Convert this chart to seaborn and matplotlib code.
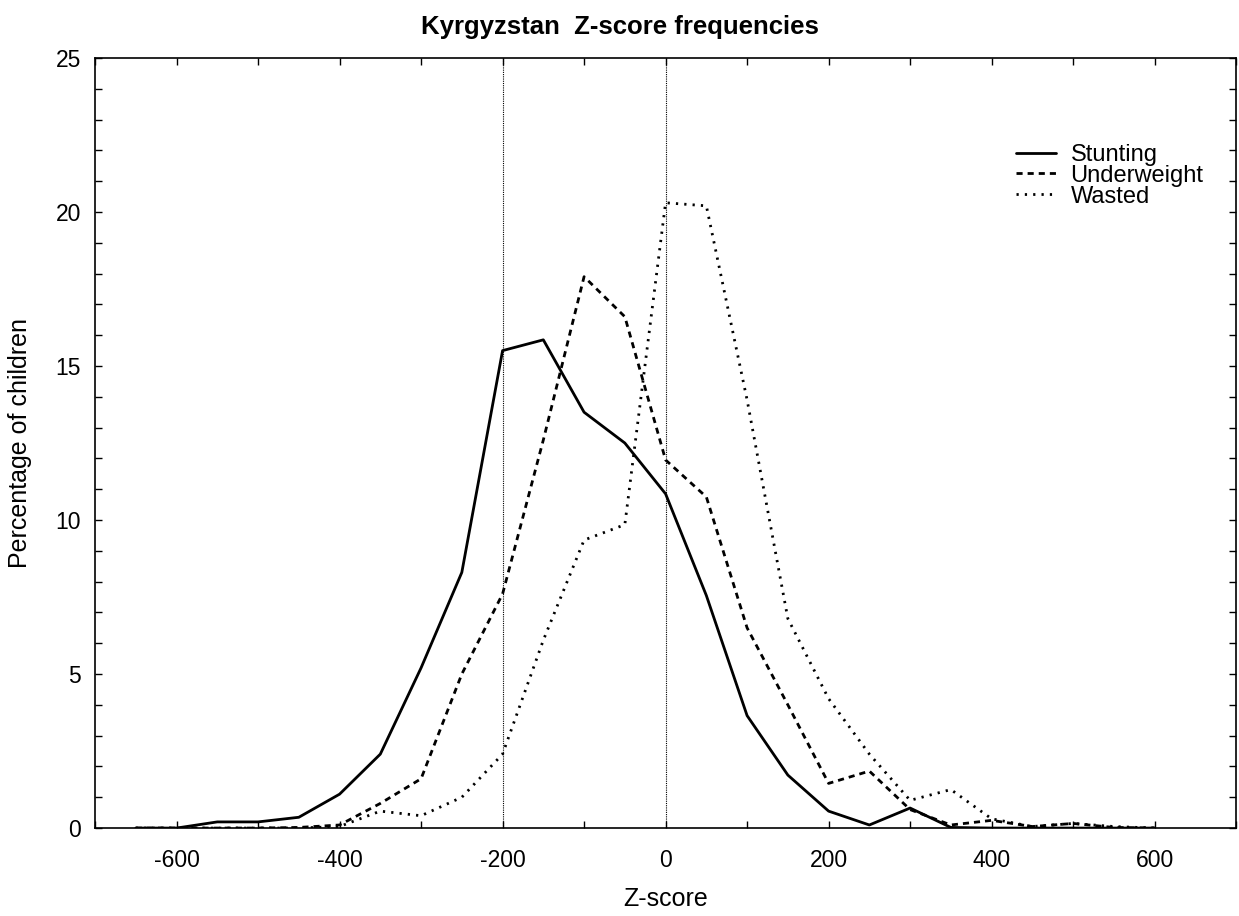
import numpy as np
import pandas as pd
import matplotlib
matplotlib.use("Agg")
import matplotlib.pyplot as plt
import matplotlib.ticker as mticker
import seaborn as sns

sns.set_style("ticks")
plt.rcParams['font.family'] = ['Liberation Sans', 'DejaVu Sans']
plt.rcParams['text.color'] = 'black'
plt.rcParams['axes.labelcolor'] = 'black'

# Z-score bins (centre of each 50-unit bin)
z_score = [-650, -600, -550, -500, -450, -400, -350, -300, -250, -200, -150, -100, -50,
           0, 50, 100, 150, 200, 250, 300, 350, 400, 450, 500, 550, 600]

stunting = [0, 0, 0.2, 0.2, 0.35, 1.1, 2.4, 5.2, 8.3, 15.5, 15.85, 13.5, 12.5,
            10.85, 7.55, 3.65, 1.72, 0.55, 0.1, 0.65, 0.02, 0, 0, 0, 0, 0]
underweight = [0, 0, 0, 0, 0.02, 0.1, 0.8, 1.6, 5.0, 7.6, 12.6, 17.9, 16.6,
               11.95, 10.75, 6.5, 4.0, 1.45, 1.85, 0.6, 0.1, 0.25, 0.05, 0.15, 0.02, 0]
wasted = [0, 0, 0, 0, 0, 0.05, 0.55, 0.4, 1.0, 2.4, 6.1, 9.35, 9.85,
          20.3, 20.2, 13.9, 6.8, 4.2, 2.4, 0.9, 1.25, 0.3, 0.05, 0.15, 0.05, 0]

series = ['Stunting', 'Underweight', 'Wasted']

df = pd.DataFrame({
    'z': z_score * 3,
    'pct': stunting + underweight + wasted,
    'serie': np.repeat(series, len(z_score)),
})

fig = plt.figure(figsize=(12.39, 9.16), dpi=100)
ax = fig.add_axes([0.0767, 0.096, 0.921, 0.8407])

# reference lines at -2 SD and 0
for xv in [-200, 0]:
    ax.axvline(xv, color='black', lw=0.8, ls=(0, (1, 1)), zorder=1)

sns.lineplot(data=df, x='z', y='pct', style='serie', ax=ax,
             color='black', linewidth=2.0,
             dashes={'Stunting': '', 'Underweight': (2.2, 1.8), 'Wasted': (0.8, 2.2)},
             legend=True)

ax.set_xlim(-700, 700)
ax.set_ylim(0, 25)

ax.xaxis.set_major_locator(mticker.MultipleLocator(100))
ax.xaxis.set_major_formatter(mticker.FuncFormatter(
    lambda v, p: f"{int(round(v))}" if int(round(v)) % 200 == 0 and abs(v) < 700 else ""))
ax.yaxis.set_major_locator(mticker.MultipleLocator(1))
ax.yaxis.set_major_formatter(mticker.FuncFormatter(
    lambda v, p: f"{int(round(v))}" if int(round(v)) % 5 == 0 else ""))

ax.tick_params(direction='in', length=5, width=1, top=True, right=True,
               labelsize=16.5, colors='black')
ax.tick_params(axis='x', pad=15)
ax.tick_params(axis='y', pad=10)
for s in ax.spines.values():
    s.set_linewidth(1.2)
    s.set_color('black')

ax.set_xlabel('Z-score', fontsize=18)
ax.set_ylabel('Percentage of children', fontsize=18)
ax.xaxis.set_label_coords(0.5, -0.077)
ax.yaxis.set_label_coords(-0.055, 0.5)

fig.suptitle('Kyrgyzstan  Z-score frequencies', fontsize=18.5, fontweight='bold',
             x=0.5, y=0.97, va='center')

leg = ax.legend(loc='upper right', bbox_to_anchor=(0.99, 0.916), frameon=False,
                fontsize=17, handlelength=1.7, handletextpad=0.6, labelspacing=-0.05,
                title=None)
for h in leg.get_lines():
    h.set_linewidth(2.0)

fig.savefig('out.png', dpi=100)
